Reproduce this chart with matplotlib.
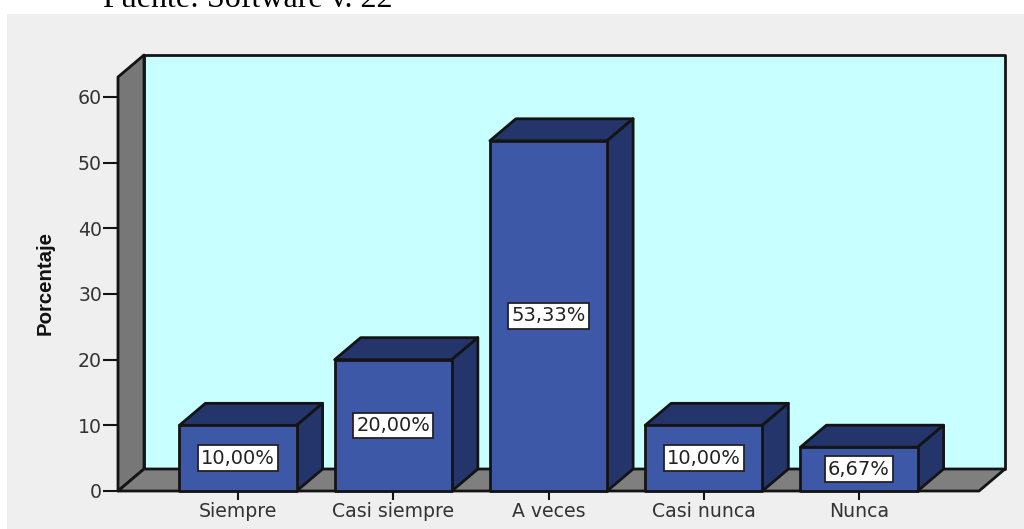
import matplotlib
matplotlib.use("Agg")
import matplotlib.pyplot as plt
from matplotlib.patches import Polygon, Rectangle

categories = ["Siempre", "Casi siempre", "A veces", "Casi nunca", "Nunca"]
values = [10.0, 20.0, 53.33, 10.0, 6.67]
labels = ["10,00%", "20,00%", "53,33%", "10,00%", "6,67%"]
yticks = [0, 10, 20, 30, 40, 50, 60]

W, H = 1024, 529
fig = plt.figure(figsize=(W / 100, H / 100), dpi=100, facecolor="white")
fig.add_artist(Rectangle((7 / W, 0), 1 - 7 / W, 1 - 14 / H, transform=fig.transFigure,
                         facecolor="#EFEFEF", edgecolor="none", zorder=-5))
fig.text(103 / W, 1 - 7 / H, "Fuente: Software v. 22", family="Liberation Serif",
         fontsize=23, color="black", ha="left", va="baseline")

L, R, B, T = 118, 979, 491, 77
ax = fig.add_axes([L / W, 1 - B / H, (R - L) / W, (B - T) / H])
ax.patch.set_alpha(0)
ymax = (B - T) / 6.567
ax.set_xlim(-0.773, 4.773)
ax.set_ylim(0, ymax)
sx = (R - L) / 5.546
sy = 6.567
DX = 26 / sx
DY = 22 / sy
WIDTH = 0.755
xl, xr = ax.get_xlim()
EC = "#141414"
LW = 2.0


def poly(pts, fc, z, lw=LW):
    ax.add_patch(Polygon(pts, closed=True, facecolor=fc, edgecolor=EC, linewidth=lw,
                         zorder=z, clip_on=False, joinstyle="round"))


# back wall, side wall, floor
poly([(xl + DX, DY), (xr + DX, DY), (xr + DX, ymax + DY), (xl + DX, ymax + DY)], "#C8FFFF", 1)
poly([(xl, 0), (xl + DX, DY), (xl + DX, ymax + DY), (xl, ymax)], "#777777", 2)
poly([(xl, 0), (xr, 0), (xr + DX, DY), (xl + DX, DY)], "#7F7F7F", 2)

for i, (v, lab) in enumerate(zip(values, labels)):
    a, b = i - WIDTH / 2, i + WIDTH / 2
    poly([(a, v), (b, v), (b + DX, v + DY), (a + DX, v + DY)], "#24356B", 3)
    poly([(b, 0), (b + DX, DY), (b + DX, v + DY), (b, v)], "#24356B", 3)
    poly([(a, 0), (b, 0), (b, v), (a, v)], "#3E58A8", 4)
    ax.text(i, v / 2, lab, ha="center", va="center", fontsize=14, family="DejaVu Sans",
            color="#222222", zorder=6,
            bbox=dict(boxstyle="square,pad=0.17", facecolor="white", edgecolor="#222222", linewidth=1.3))

for s in ax.spines.values():
    s.set_visible(False)
ax.set_xticks(range(len(categories)))
ax.set_xticklabels(categories)
ax.set_yticks(yticks)
ax.tick_params(axis="both", width=1.5, color=EC, labelcolor="#333333", labelsize=13.6)
ax.tick_params(axis="y", length=10.5, pad=1)
ax.tick_params(axis="x", length=6.5, pad=1.5)
for t in ax.get_xticklabels() + ax.get_yticklabels():
    t.set_family("DejaVu Sans")

fig.text(45 / W, 1 - 283 / H, "Porcentaje", rotation=90, ha="center", va="center",
         family="Liberation Sans", fontweight="bold", fontsize=14.7, color="#111111")

fig.savefig("out.png", dpi=100)
